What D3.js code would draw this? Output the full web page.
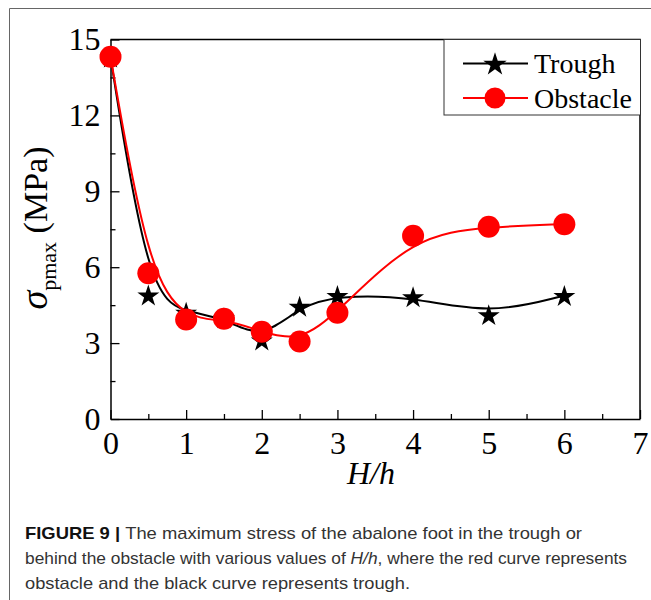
<!DOCTYPE html>
<meta charset="utf-8">
<html>
<head>
<script src="https://cdn.jsdelivr.net/npm/d3@7"></script>
<style>
  body { margin: 0; background: #fff; }
  svg text { font-family: "Liberation Serif", "Times New Roman", serif; }
  .cap text { font-family: "Liberation Sans", Arial, sans-serif; }
</style>
</head>
<body>
<div id="chart"></div>
<script>
// data
var ratio    = [0, 0.5, 1, 1.5, 2, 2.5, 3, 4, 5, 6];
var trough   = [14.3, 4.9, 4.22, 4.0, 3.12, 4.45, 4.88, 4.83, 4.12, 4.88];
var obstacle = [14.32, 5.76, 3.93, 3.96, 3.45, 3.06, 4.2, 7.24, 7.6, 7.7];
var xTicks = [0, 1, 2, 3, 4, 5, 6, 7];
var yTicks = [0, 3, 6, 9, 12, 15];

var W = 651, H = 600;
var margin = {top: 39.5, right: 11, bottom: 181, left: 110.5},
    width = W - margin.left - margin.right,
    height = H - margin.top - margin.bottom;

var svg = d3.select("#chart").append("svg")
    .attr("width", W).attr("height", H);

// outer figure frame (only left and top visible)
svg.append("path")
    .attr("d", "M9.5,610V8.5H660")
    .attr("fill", "none").attr("stroke", "#666").attr("stroke-width", 1);

var g = svg.append("g")
    .attr("transform", "translate(" + margin.left + "," + margin.top + ")");

var x = d3.scaleLinear().domain([0, 7]).range([0, width]);
var y = d3.scaleLinear().domain([0, 15]).range([height, 0]);

// minor ticks
g.append("g")
    .attr("transform", "translate(0," + height + ")")
    .call(d3.axisBottom(x).tickValues(d3.range(0.5, 7, 1)).tickSize(-5).tickFormat(""))
    .call(function(a){ a.select(".domain").remove(); });
g.append("g")
    .call(d3.axisLeft(y).tickValues(d3.range(1.5, 15, 3)).tickSize(-5).tickFormat(""))
    .call(function(a){ a.select(".domain").remove(); });

var xAxis = g.append("g")
    .attr("transform", "translate(0," + height + ")")
    .call(d3.axisBottom(x).tickValues(xTicks).tickFormat(d3.format("d"))
        .tickSize(-9).tickSizeOuter(0).tickPadding(12));
var yAxis = g.append("g")
    .call(d3.axisLeft(y).tickValues(yTicks).tickFormat(d3.format("d"))
        .tickSize(-9).tickSizeOuter(0).tickPadding(10));

g.selectAll(".tick line").attr("stroke", "#000").attr("stroke-width", 1.3);
[xAxis, yAxis].forEach(function(a){
    a.select(".domain").attr("stroke", "#000").attr("stroke-width", 1.5);
    a.selectAll("text")
        .attr("font-family", "Liberation Serif")
        .attr("font-size", "32px")
        .attr("fill", "#000");
});

// top + right border of the plot
g.append("path")
    .attr("d", "M0,0H" + width + "V" + height)
    .attr("fill", "none").attr("stroke", "#000").attr("stroke-width", 1.5);

var line = d3.line()
    .x(function(d, i){ return x(ratio[i]); })
    .y(function(d){ return y(d); })
    .curve(d3.curveBasis);

var star = d3.symbol().type(d3.symbolStar).size(150);

// trough
g.append("path").datum(trough)
    .attr("d", line).attr("fill", "none")
    .attr("stroke", "#000").attr("stroke-width", 2);
g.selectAll(".star").data(trough).enter()
    .append("path").attr("class", "star")
    .attr("d", star)
    .attr("transform", function(d, i){ return "translate(" + x(ratio[i]) + "," + (y(d) + 1) + ")"; })
    .attr("fill", "#000");

// obstacle
g.append("path").datum(obstacle)
    .attr("d", line).attr("fill", "none")
    .attr("stroke", "#ff0000").attr("stroke-width", 2);
g.selectAll(".dot").data(obstacle).enter()
    .append("circle").attr("class", "dot")
    .attr("cx", function(d, i){ return x(ratio[i]); })
    .attr("cy", function(d){ return y(d); })
    .attr("r", 11)
    .attr("fill", "#ff0000");

// legend
var leg = svg.append("g").attr("transform", "translate(444,39.5)");
leg.append("rect")
    .attr("width", 196.5).attr("height", 75.5)
    .attr("fill", "#fff").attr("stroke", "#333").attr("stroke-width", 1);
var legItems = [
    {name: "Trough", color: "#000", y: 24},
    {name: "Obstacle", color: "#ff0000", y: 58.5}
];
legItems.forEach(function(d, i){
    leg.append("line")
        .attr("x1", 19).attr("x2", 84).attr("y1", d.y).attr("y2", d.y)
        .attr("stroke", d.color).attr("stroke-width", 2);
    if (i === 0) {
        leg.append("path")
            .attr("d", d3.symbol().type(d3.symbolStar).size(170))
            .attr("transform", "translate(51," + (d.y + 1) + ")")
            .attr("fill", d.color);
    } else {
        leg.append("circle").attr("cx", 51).attr("cy", d.y).attr("r", 10.5).attr("fill", d.color);
    }
    leg.append("text")
        .attr("x", 90).attr("y", d.y + 9.5)
        .attr("font-size", "28px").attr("fill", "#000")
        .text(d.name);
});

// axis titles
svg.append("text")
    .attr("x", 371).attr("y", 484)
    .attr("text-anchor", "middle")
    .attr("font-size", "32px").attr("font-style", "italic")
    .text("H/h");

var yl = svg.append("text")
    .attr("transform", "translate(47,228) rotate(-90)")
    .attr("text-anchor", "middle")
    .attr("fill", "#000");
yl.append("tspan").attr("font-size", "38px").attr("font-style", "italic").text("\u03c3");
yl.append("tspan").attr("font-size", "22px").attr("dy", 9).text("pmax");
yl.append("tspan").attr("font-size", "34px").attr("dy", -9).text(" (MPa)");

// caption
var cap = svg.append("g").attr("class", "cap").attr("fill", "#333");
var c1 = cap.append("text").attr("x", 25).attr("y", 539).attr("font-size", "17px")
    .attr("textLength", 557).attr("lengthAdjust", "spacingAndGlyphs");
c1.append("tspan").attr("font-weight", "bold").attr("fill", "#111").text("FIGURE 9 | ");
c1.append("tspan").text("The maximum stress of the abalone foot in the trough or");
var c2 = cap.append("text").attr("x", 25).attr("y", 564).attr("font-size", "17px")
    .attr("textLength", 602).attr("lengthAdjust", "spacingAndGlyphs");
c2.append("tspan").text("behind the obstacle with various values of ");
c2.append("tspan").attr("font-style", "italic").text("H/h");
c2.append("tspan").text(", where the red curve represents");
cap.append("text").attr("x", 25).attr("y", 589).attr("font-size", "17px")
    .attr("textLength", 385).attr("lengthAdjust", "spacingAndGlyphs")
    .text("obstacle and the black curve represents trough.");
</script>
</body>
</html>
